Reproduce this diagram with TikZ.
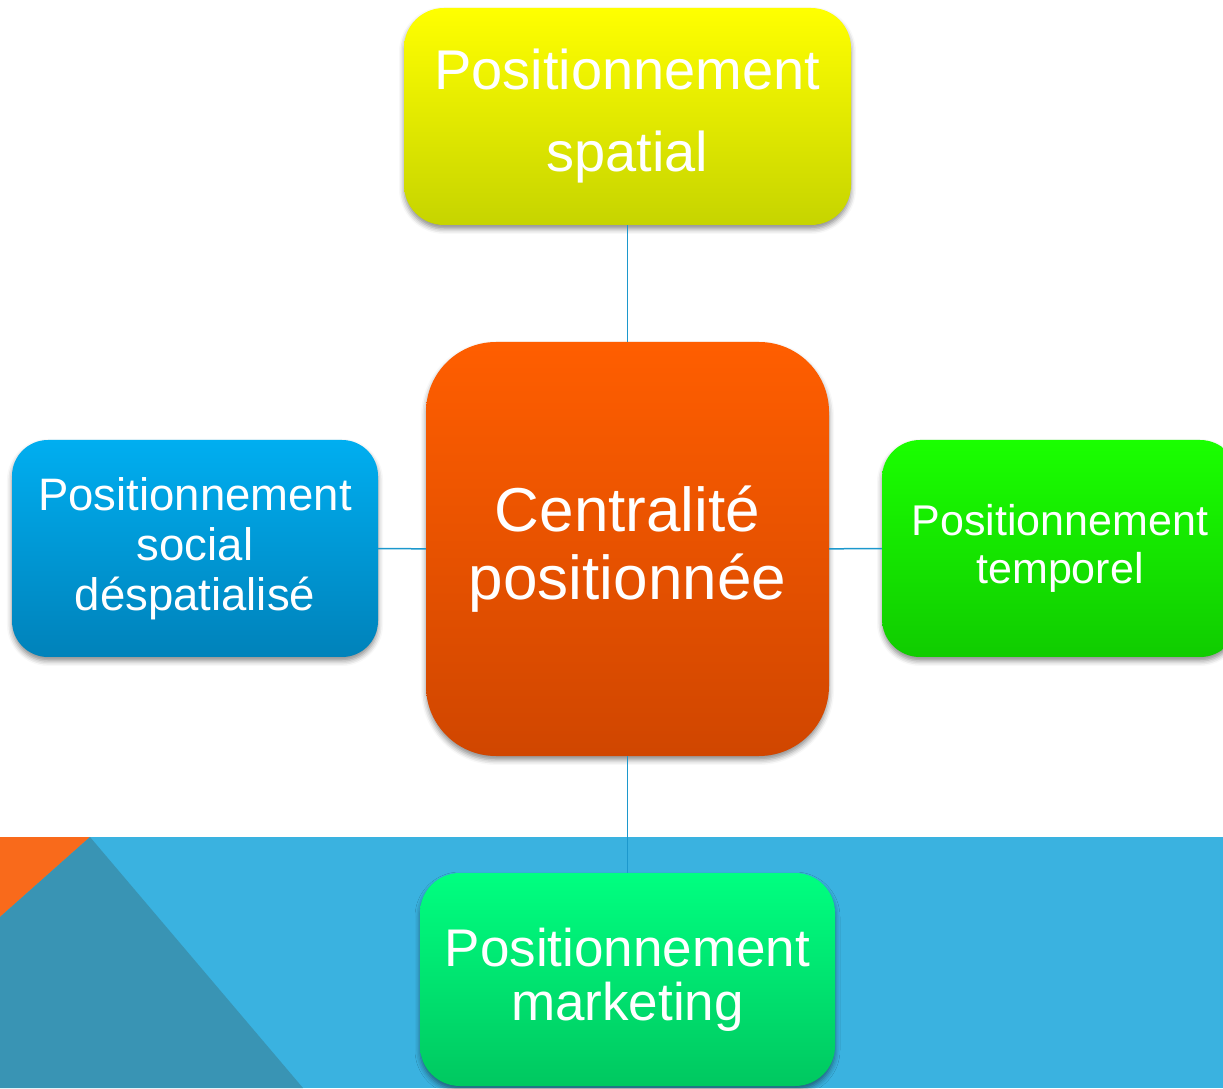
\documentclass[tikz,border=0pt]{standalone}
\usepackage{fontspec}
\setmainfont{Liberation Sans}
\usetikzlibrary{shadows.blur}

\definecolor{bandblue}{RGB}{58,178,224}
\definecolor{banddark}{RGB}{57,148,180}
\definecolor{bandorange}{RGB}{249,106,27}
\definecolor{linkblue}{RGB}{28,152,205}

\begin{document}
\begin{tikzpicture}
[
	x=1pt,
	y=1pt,
	box/.style={rectangle,inner sep=0pt,text=white,align=center,
		blur shadow={shadow xshift=0pt,shadow yshift=-4pt,
			shadow blur radius=5pt,shadow opacity=45}},
	link/.style={draw=linkblue,line width=1.5pt}
]

	\useasboundingbox (0,0) rectangle (1223,1088);

	% band along the bottom
	\fill[bandblue] (0,0) rectangle (1223,251);
	\fill[bandorange] (0,251) -- (90,251) -- (0,171) -- cycle;
	\fill[banddark] (90,251) -- (303,0) -- (0,0) -- (0,171) -- cycle;

	% centre
	\node[box,minimum width=403,minimum height=414,rounded corners=70,
		top color={rgb,255:red,255;green,94;blue,0},
		bottom color={rgb,255:red,208;green,70;blue,0},
		font=\fontsize{62}{68}\selectfont]
		(centre) at (627.5,539) {Centralité\\positionnée};

	% the four positionings
	\node[box,minimum width=447,minimum height=217,rounded corners=40,
		top color={rgb,255:red,255;green,255;blue,0},
		bottom color={rgb,255:red,198;green,212;blue,0},
		font=\fontsize{56}{82}\selectfont]
		(spatial) at (627.5,971.5) {Positionnement\\spatial};
	\node[box,minimum width=366,minimum height=217,rounded corners=36,
		top color={rgb,255:red,0;green,174;blue,240},
		bottom color={rgb,255:red,0;green,130;blue,186},
		font=\fontsize{45.5}{50}\selectfont]
		(social) at (195,539.5) {Positionnement\\social\\déspatialisé};
	\node[box,minimum width=356,minimum height=217,rounded corners=38,
		top color={rgb,255:red,26;green,255;blue,0},
		bottom color={rgb,255:red,16;green,204;blue,0},
		font=\fontsize{43}{48}\selectfont]
		(temporel) at (1060,539.5) {Positionnement\\temporel};
	\node[box,minimum width=415,minimum height=213,rounded corners=40,
		top color={rgb,255:red,0;green,255;blue,128},
		bottom color={rgb,255:red,0;green,200;blue,96},
		font=\fontsize{53}{54}\selectfont]
		(marketing) at (627.5,108.5) {Positionnement\\marketing};

	% links to the centre
	\draw[link] (spatial) -- (centre);
	\draw[link] (marketing) -- (centre);
	\draw[link] (social) -- (centre);
	\draw[link] (temporel) -- (centre);

\end{tikzpicture}
\end{document}
